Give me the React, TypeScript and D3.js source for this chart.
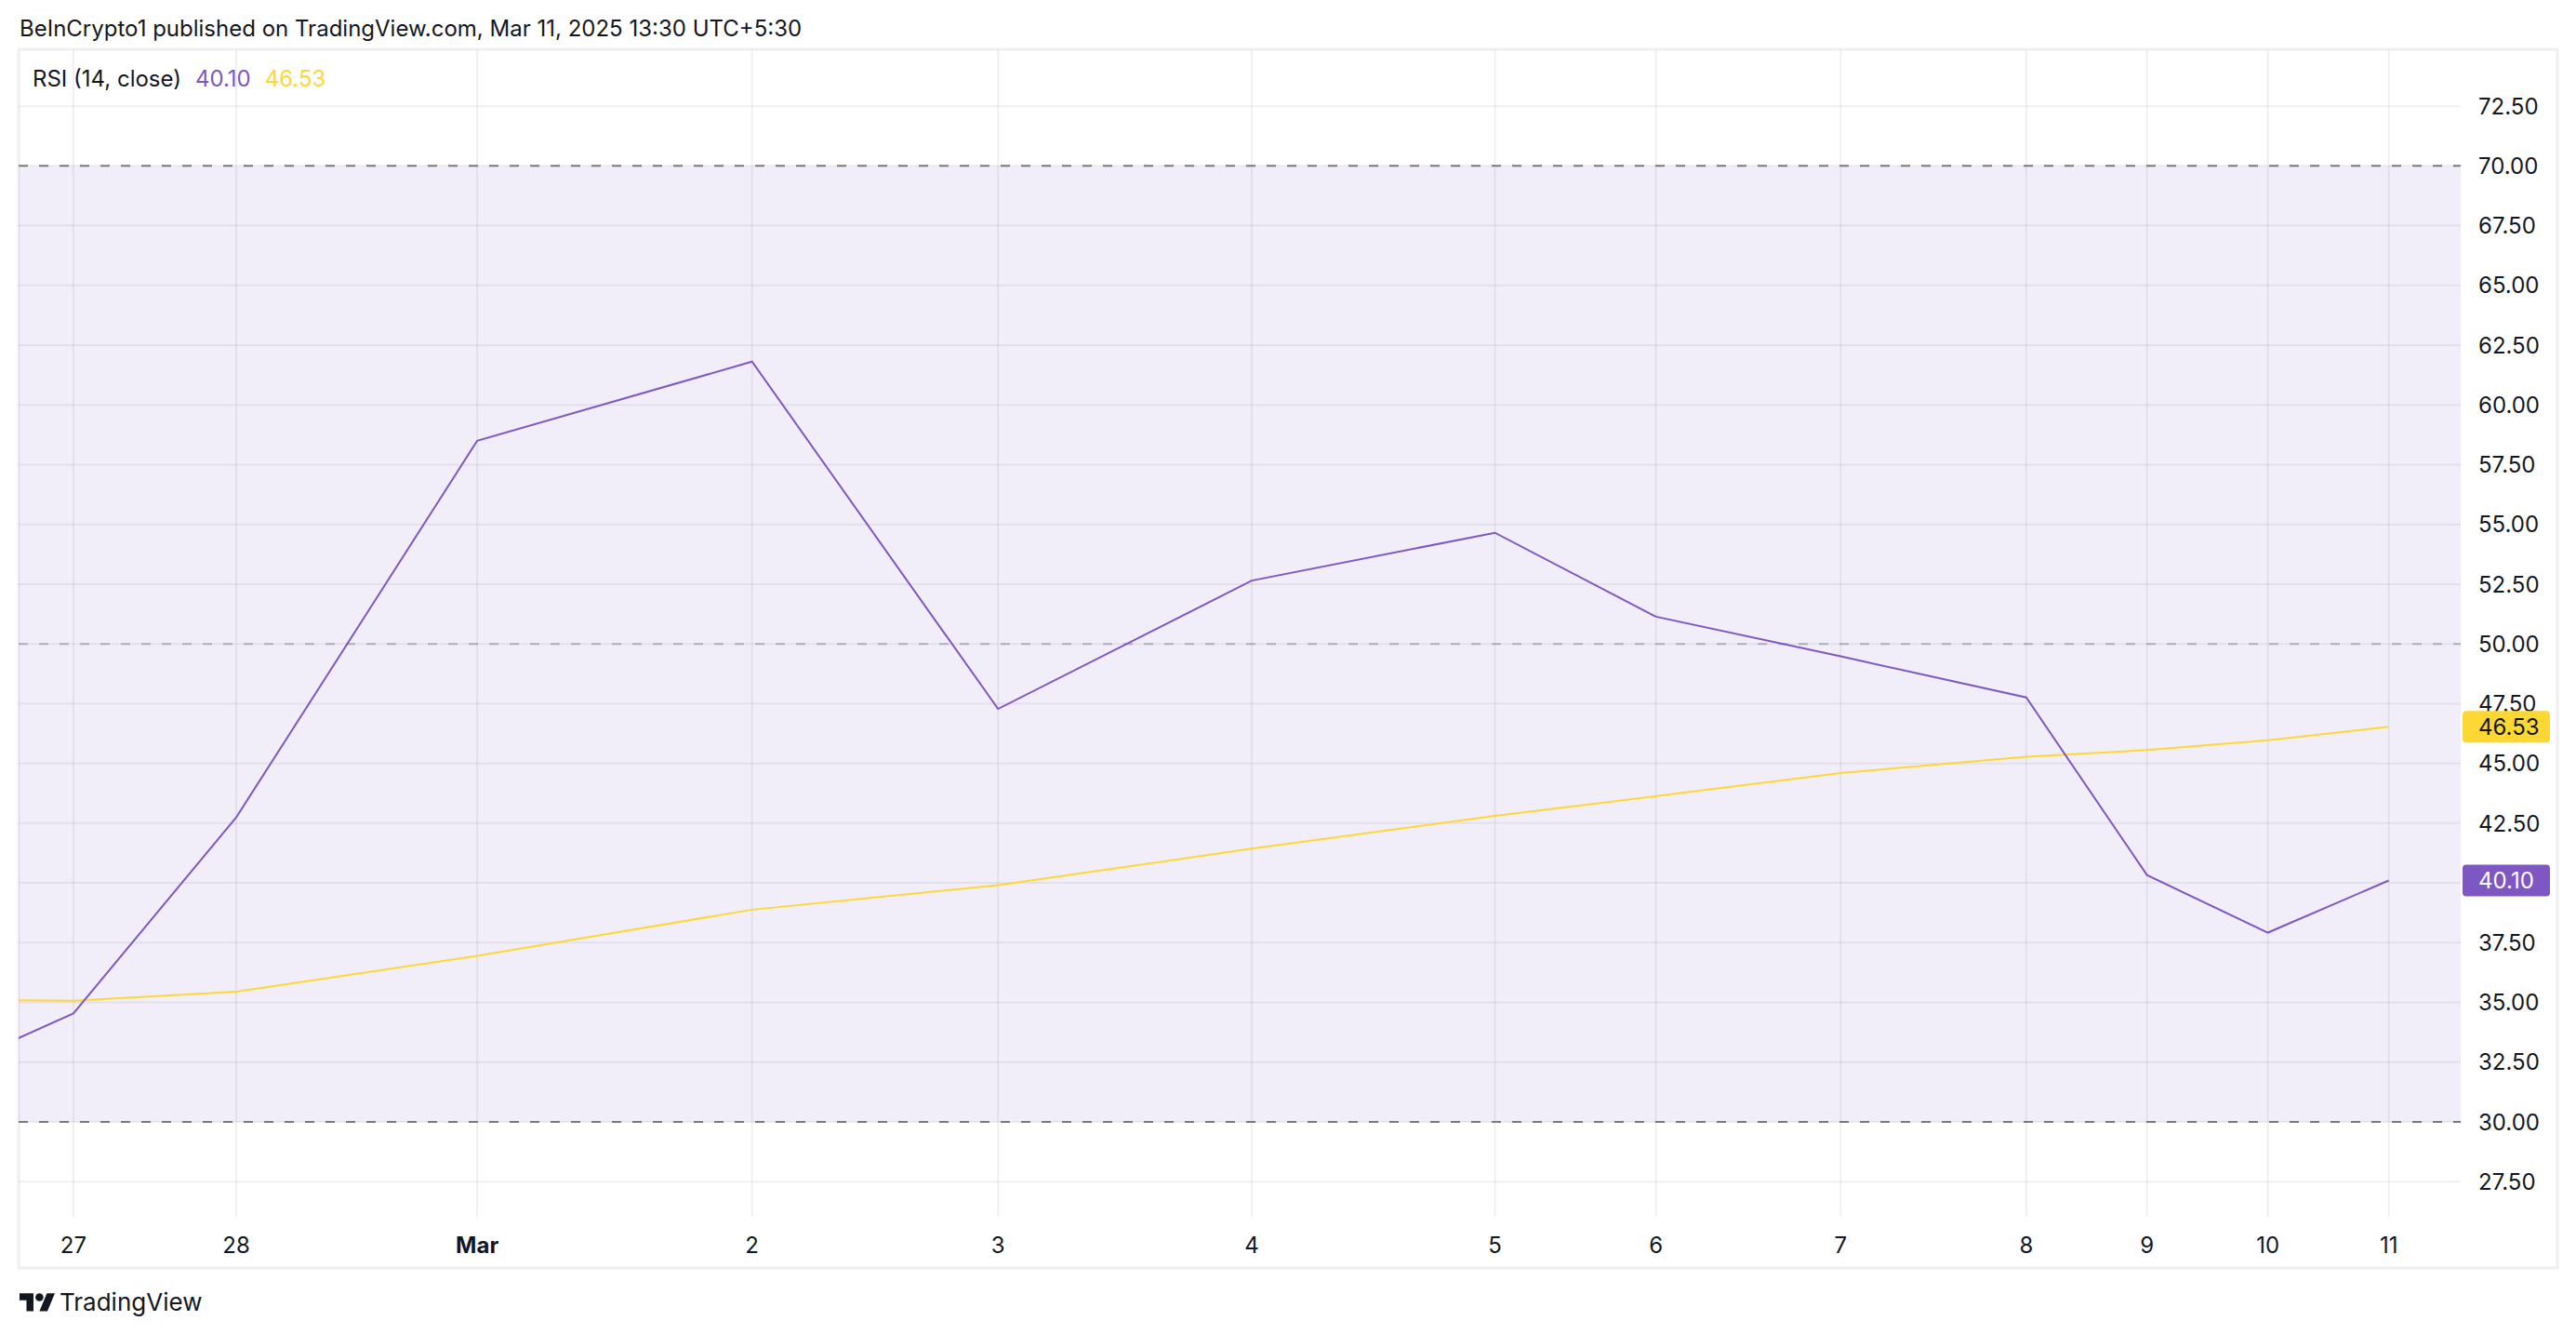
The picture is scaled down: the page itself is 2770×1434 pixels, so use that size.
import React from "react";
import * as d3 from "d3";

// ---- data ----
const xLabels = ["27", "28", "Mar", "2", "3", "4", "5", "6", "7", "8", "9", "10", "11"];
const xLabelBold = [false, false, true, false, false, false, false, false, false, false, false, false, false];
// bar offsets (time-scale position of each session, in bar units)
const barOffsets = [0, 8.08, 20.04, 33.68, 45.89, 58.48, 70.55, 78.54, 87.71, 96.92, 102.91, 108.91, 114.91];
const prevBarOffset = -8;
const rsiPrev = 31.5;
const rsiValues = [34.54, 42.74, 58.5, 61.81, 47.28, 52.65, 54.65, 51.14, 49.48, 47.76, 40.33, 37.92, 40.1];
const maPrev = 35.13;
const maValues = [35.07, 35.45, 36.95, 38.88, 39.91, 41.43, 42.81, 43.63, 44.6, 45.28, 45.56, 45.97, 46.53];
const yTicks = [27.5, 30, 32.5, 35, 37.5, 40, 42.5, 45, 47.5, 50, 52.5, 55, 57.5, 60, 62.5, 65, 67.5, 70, 72.5];
const bandLevels = [70, 50, 30];
const headerText = "BeInCrypto1 published on TradingView.com, Mar 11, 2025 13:30 UTC+5:30";
const legendName = "RSI (14, close)";
const rsiLast = 40.1;
const maLast = 46.53;

const W = 2770;
const H = 1434;
const plot = { left: 20, right: 2646, top: 53, bottom: 1308 };
const frame = { left: 20, right: 2750, top: 53, bottom: 1363 };
const FONT = "Inter, 'Noto Sans', sans-serif";
const PURPLE = "#7E57C2";
const YELLOW = "#FDD835";
const TEXT = "#131722";

export default function App() {
  const x = d3.scaleLinear().domain([-2.72, 118.48]).range([plot.left, plot.right]);
  const y = d3.scaleLinear().domain([26.03, 74.88]).range([plot.bottom, plot.top]);

  const rsiPts: [number, number][] = [[prevBarOffset, rsiPrev], ...barOffsets.map((b, i) => [b, rsiValues[i]] as [number, number])];
  const maPts: [number, number][] = [[prevBarOffset, maPrev], ...barOffsets.map((b, i) => [b, maValues[i]] as [number, number])];
  const line = d3
    .line<[number, number]>()
    .x((d) => x(d[0]))
    .y((d) => y(d[1]));

  const gridColor = "rgba(42,46,57,0.07)";

  return (
    <svg width={W} height={H} style={{ display: "block", position: "absolute", left: 0, top: 0, background: "#fff" }}>
      <defs>
        <clipPath id="plotClip">
          <rect x={plot.left} y={plot.top} width={plot.right - plot.left} height={plot.bottom - plot.top} />
        </clipPath>
      </defs>
      <rect x={0} y={0} width={W} height={H} fill="#fff" />
      {/* header */}
      <text x={21} y={39} fontFamily={FONT} fontSize={24} fill={TEXT}>
        {headerText}
      </text>
      {/* frame */}
      <rect
        x={frame.left}
        y={frame.top}
        width={frame.right - frame.left}
        height={frame.bottom - frame.top}
        fill="none"
        stroke="#efefef"
        strokeWidth={3}
      />
      {/* band background */}
      <rect
        x={plot.left}
        y={y(70)}
        width={plot.right - plot.left}
        height={y(30) - y(70)}
        fill="rgba(126,87,194,0.1)"
      />
      {/* grid */}
      <g>
        {yTicks.map((t) => (
          <line key={"h" + t} x1={plot.left} x2={plot.right} y1={y(t)} y2={y(t)} stroke={gridColor} strokeWidth={2} />
        ))}
        {barOffsets.map((b, i) => (
          <line key={"v" + i} x1={x(b)} x2={x(b)} y1={plot.top} y2={plot.bottom} stroke={gridColor} strokeWidth={2} />
        ))}
      </g>
      {/* band lines */}
      {bandLevels.map((lv) => (
        <line
          key={"b" + lv}
          x1={plot.left}
          x2={plot.right}
          y1={y(lv)}
          y2={y(lv)}
          stroke={lv === 50 ? "rgba(120,123,134,0.5)" : "#787B86"}
          strokeWidth={2}
          strokeDasharray="10,12"
        />
      ))}
      {/* series */}
      <g clipPath="url(#plotClip)">
        <path d={line(maPts) || ""} fill="none" stroke={YELLOW} strokeWidth={2} />
        <path d={line(rsiPts) || ""} fill="none" stroke={PURPLE} strokeWidth={2} />
      </g>
      {/* legend */}
      <text x={35} y={93} fontFamily={FONT} fontSize={24} fill={TEXT}>
        <tspan>{legendName}</tspan>
        <tspan dx={15} fill={PURPLE}>{rsiLast.toFixed(2)}</tspan>
        <tspan dx={15} fill={YELLOW}>{maLast.toFixed(2)}</tspan>
      </text>
      {/* y axis labels */}
      {yTicks.map((t) => (
        <text key={"yl" + t} x={2665} y={y(t)} dy="0.36em" fontFamily={FONT} fontSize={24} fill={TEXT}>
          {t.toFixed(2)}
        </text>
      ))}
      {/* last value badges */}
      {[
        { v: maLast, bg: YELLOW, fg: TEXT },
        { v: rsiLast, bg: PURPLE, fg: "#ffffff" },
      ].map((b) => (
        <g key={"badge" + b.v}>
          <rect x={2648} y={y(b.v) - 17} width={94} height={34} rx={4} fill={b.bg} />
          <text x={2665} y={y(b.v)} dy="0.36em" fontFamily={FONT} fontSize={24} fill={b.fg}>
            {b.v.toFixed(2)}
          </text>
        </g>
      ))}
      {/* x axis labels */}
      {xLabels.map((l, i) => (
        <text
          key={"xl" + i}
          x={x(barOffsets[i])}
          y={1338}
          dy="0.36em"
          textAnchor="middle"
          fontFamily={FONT}
          fontSize={24}
          fontWeight={xLabelBold[i] ? 700 : 400}
          fill={TEXT}
        >
          {l}
        </text>
      ))}
      {/* TradingView logo */}
      <g transform="translate(21,1386) scale(1.07)">
        <path d="M14 22H7V11H0V4h14v18ZM28 22h-8l7.5-18h8L28 22Z" fill={TEXT} />
        <circle cx={20} cy={8} r={4} fill={TEXT} />
      </g>
      <text x={64} y={1409} fontFamily={FONT} fontSize={26} fill={TEXT}>
        TradingView
      </text>
    </svg>
  );
}
